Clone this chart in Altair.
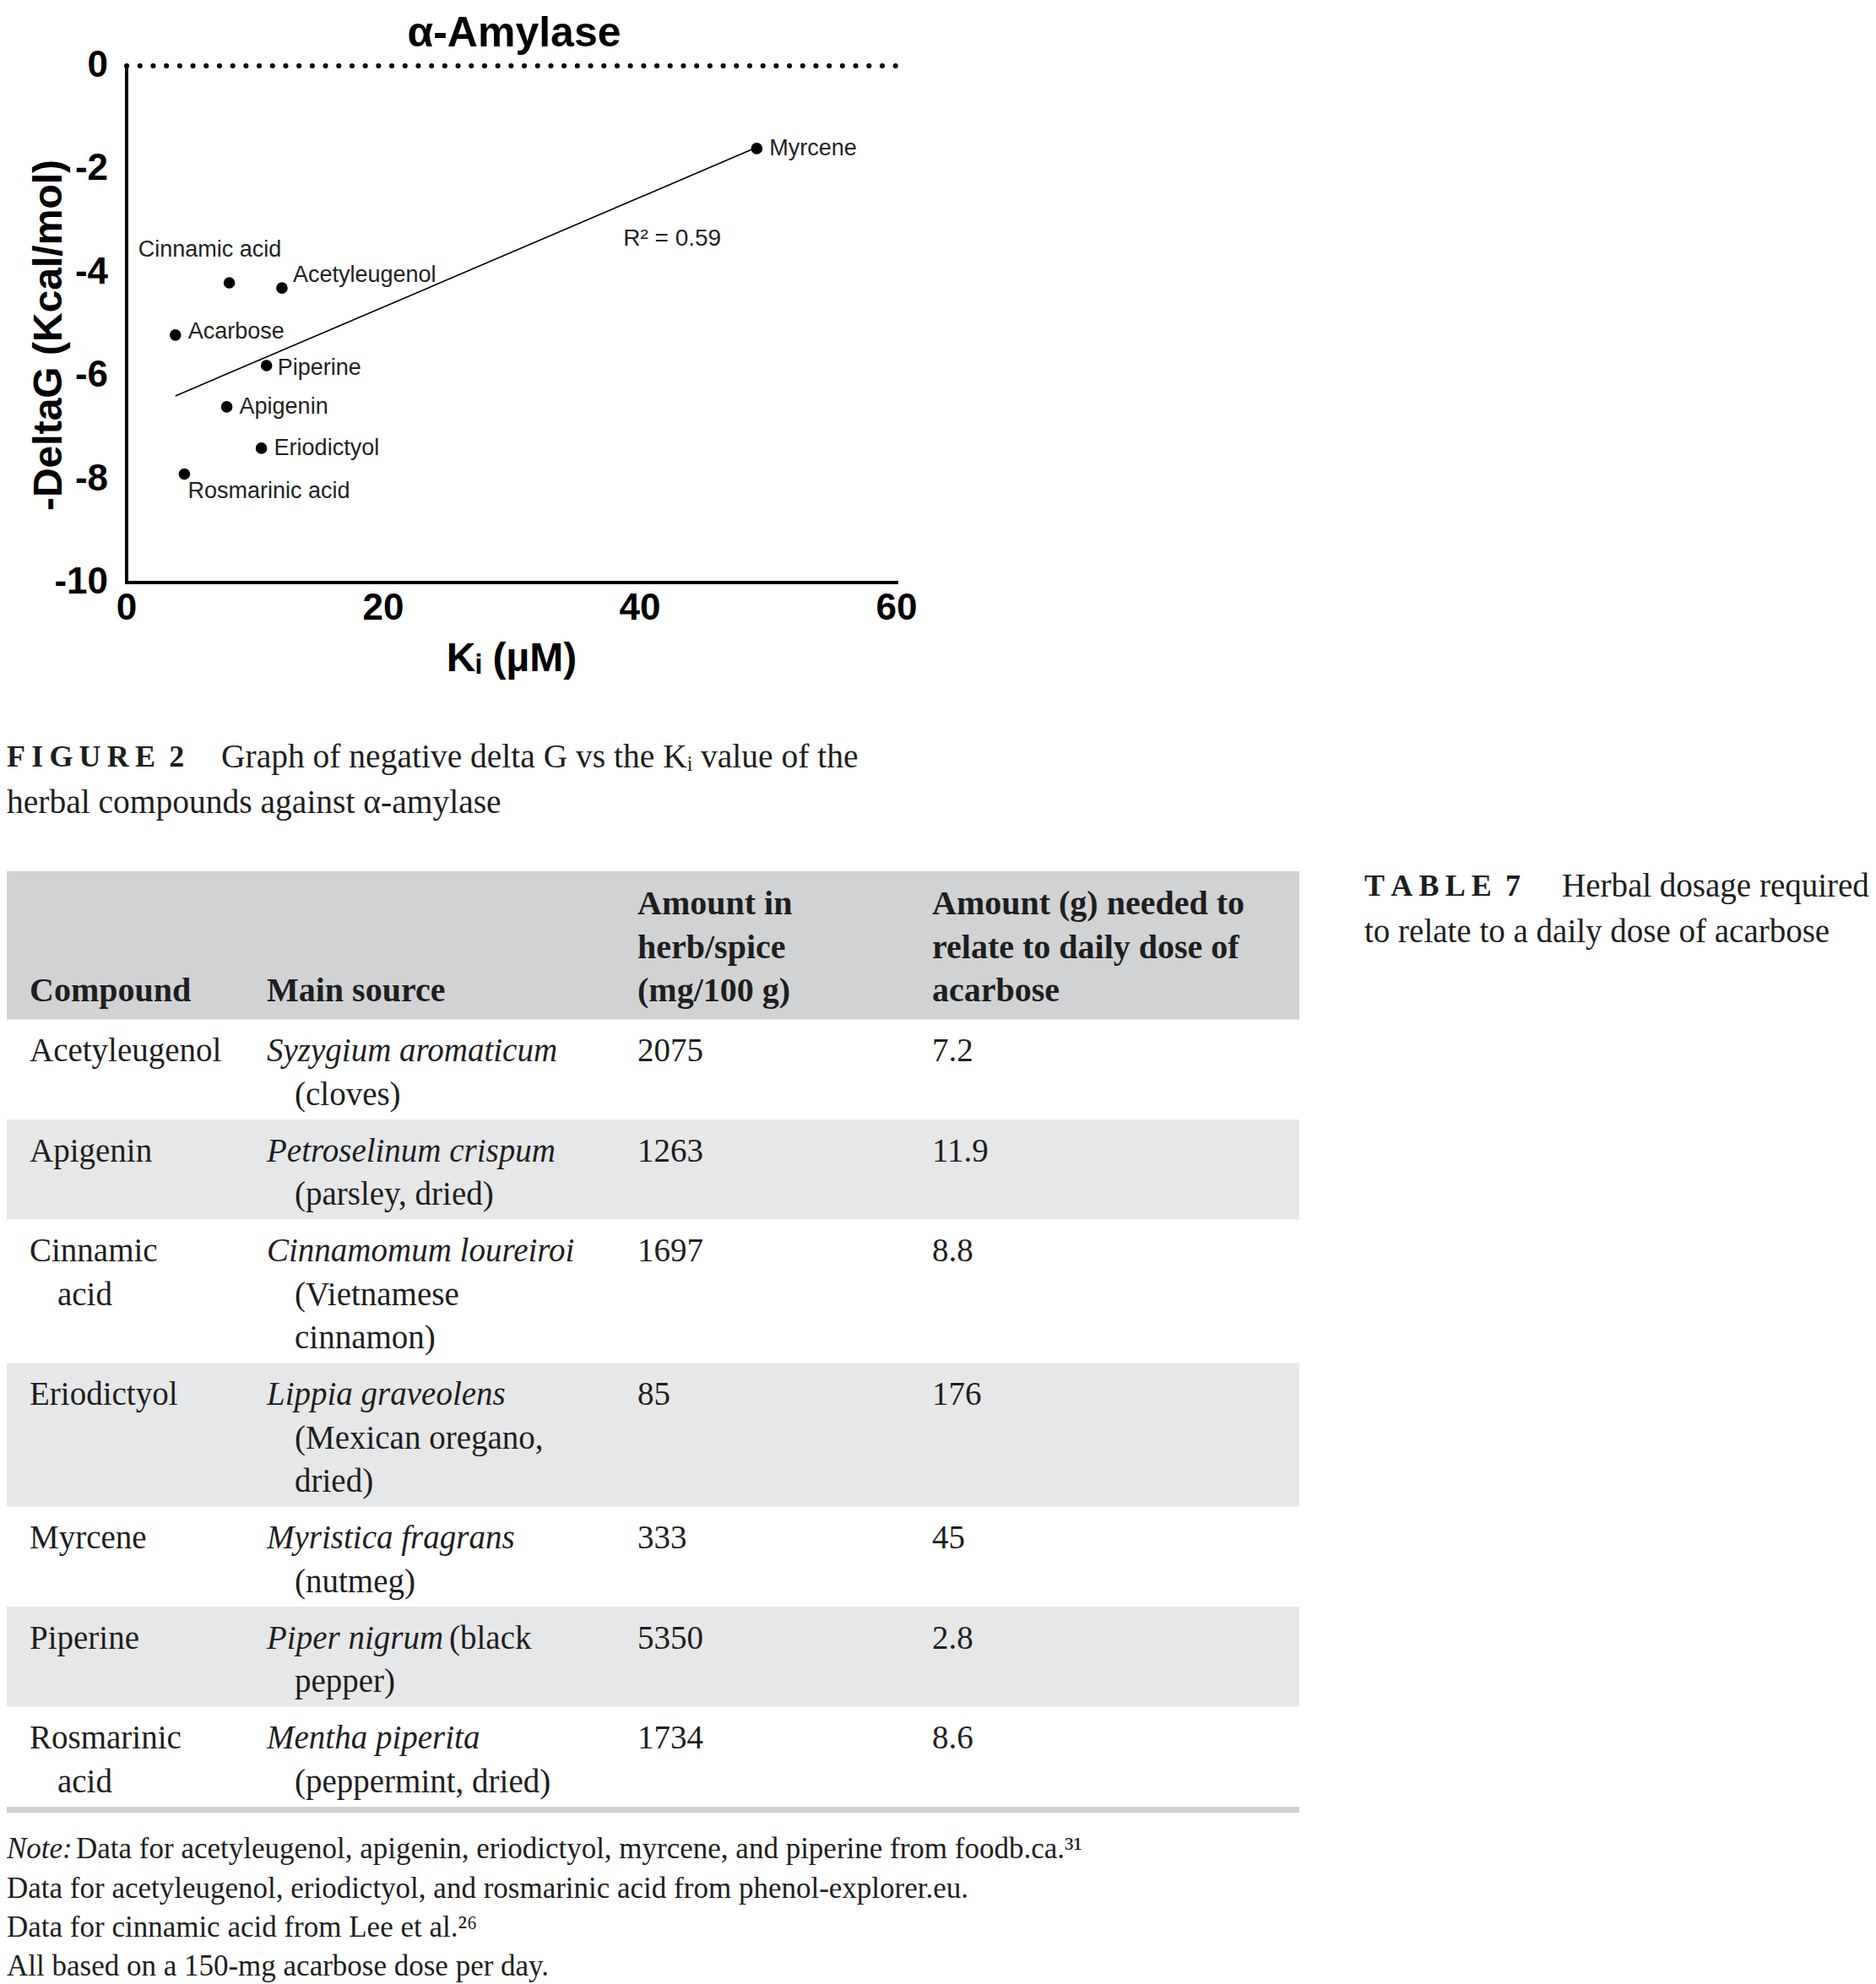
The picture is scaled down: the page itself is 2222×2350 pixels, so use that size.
import altair as alt
import pandas as pd

# ---------------- data: scatter ----------------
pt_names = ["Myrcene", "Cinnamic acid", "Acetyleugenol", "Acarbose",
            "Piperine", "Apigenin", "Eriodictyol", "Rosmarinic acid"]
pt_ki = [49.1, 8.0, 12.1, 3.8, 10.9, 7.8, 10.5, 4.5]
pt_dg = [-1.6, -4.2, -4.3, -5.21, -5.8, -6.6, -7.4, -7.9]
x_ticks = [0, 20, 40, 60]
y_ticks = [0, -2, -4, -6, -8, -10]
x_domain = [0, 60]
y_domain = [-10, 0]
r2_label = "R\u00b2 = 0.59"
r2_ki = 38.7
r2_dg = -3.35
chart_title = "\u03b1-Amylase"
x_title = "K\u1d62 (\u00b5M)"
y_title = "-DeltaG (Kcal/mol)"

# ---------------- data: table ----------------
header_cols = [["Compound"], ["Main source"],
               ["Amount in", "herb/spice", "(mg/100 g)"],
               ["Amount (g) needed to", "relate to daily dose of", "acarbose"]]
tbl_compound_lines = [["Acetyleugenol"], ["Apigenin"], ["Cinnamic", "acid"], ["Eriodictyol"],
                      ["Myrcene"], ["Piperine"], ["Rosmarinic", "acid"]]
tbl_species = ["Syzygium aromaticum", "Petroselinum crispum", "Cinnamomum loureiroi",
               "Lippia graveolens", "Myristica fragrans", "Piper nigrum", "Mentha piperita"]
tbl_common_lines = [["(cloves)"], ["(parsley, dried)"], ["(Vietnamese", "cinnamon)"],
                    ["(Mexican oregano,", "dried)"], ["(nutmeg)"], ["(black", "pepper)"],
                    ["(peppermint, dried)"]]
tbl_common_inline = [False, False, False, False, False, True, False]
tbl_amount = ["2075", "1263", "1697", "85", "333", "5350", "1734"]
tbl_dose = ["7.2", "11.9", "8.8", "176", "45", "2.8", "8.6"]

fig_label = "F\u2009I\u2009G\u2009U\u2009R\u2009E\u2009 2"
fig_lines = ["Graph of negative delta G vs the K\u1d62 value of the",
             "herbal compounds against \u03b1-amylase"]
tab_label = "T\u2009A\u2009B\u2009L\u2009E\u2009 7"
tab_lines = ["Herbal dosage required", "to relate to a daily dose of acarbose"]
note_label = "Note:"
note_lines = ["Data for acetyleugenol, apigenin, eriodictyol, myrcene, and piperine from foodb.ca.\u00b3\u00b9",
              "Data for acetyleugenol, eriodictyol, and rosmarinic acid from phenol-explorer.eu.",
              "Data for cinnamic acid from Lee et al.\u00b2\u2076",
              "All based on a 150-mg acarbose dose per day."]

# ---------------- styles / layout ----------------
SANS = "Liberation Sans"
SERIF = "Liberation Serif"
INK = "#1e1e1e"
W, H = 2206, 2342

XS = alt.Scale(domain=x_domain, range=[142, 1054], nice=False, zero=False)
YS = alt.Scale(domain=y_domain, range=[682, 70], nice=False, zero=False)


def X(f):
    return alt.X(f, type="quantitative", scale=XS, axis=None)


def Y(f):
    return alt.Y(f, type="quantitative", scale=YS, axis=None)


pts = pd.DataFrame({"name": pt_names, "ki": pt_ki, "dg": pt_dg})

layers = []
# dotted zero line
layers.append(alt.Chart(pd.DataFrame({"x": [x_domain[0]], "x2": [x_domain[1]], "y": [0]}))
              .mark_rule(color="black", strokeWidth=6, strokeCap="round", strokeDash=[0.1, 15.6])
              .encode(x=X("x"), x2="x2:Q", y=Y("y")))
# axis lines
layers.append(alt.Chart(pd.DataFrame({"x": [x_domain[0]], "y": [y_domain[0]], "y2": [y_domain[1]]}))
              .mark_rule(color="black", strokeWidth=4, strokeCap="square")
              .encode(x=X("x"), y=Y("y"), y2="y2:Q"))
layers.append(alt.Chart(pd.DataFrame({"x": [x_domain[0]], "x2": [x_domain[1]], "y": [y_domain[0]]}))
              .mark_rule(color="black", strokeWidth=4, strokeCap="square")
              .encode(x=X("x"), x2="x2:Q", y=Y("y")))
# tick labels
layers.append(alt.Chart(pd.DataFrame({"x": [x_domain[0]] * len(y_ticks), "v": y_ticks,
                                      "lab": [str(v) for v in y_ticks]}))
              .mark_text(align="right", baseline="middle", dx=-22, font=SANS, fontSize=44,
                         fontWeight="bold", color="black")
              .encode(x=X("x"), y=Y("v"), text="lab:N"))
layers.append(alt.Chart(pd.DataFrame({"v": x_ticks, "y": [y_domain[0]] * len(x_ticks),
                                      "lab": [str(v) for v in x_ticks]}))
              .mark_text(align="center", baseline="middle", dy=31, font=SANS, fontSize=44,
                         fontWeight="bold", color="black")
              .encode(x=X("v"), y=Y("y"), text="lab:N"))
# titles
mid_x = (x_domain[0] + x_domain[1]) / 2
mid_y = (y_domain[0] + y_domain[1]) / 2
layers.append(alt.Chart(pd.DataFrame({"x": [mid_x], "y": [y_domain[1]], "t": [chart_title]}))
              .mark_text(align="center", baseline="top", dx=3, dy=-63, font=SANS,
                         fontSize=50, fontWeight="bold", color="black")
              .encode(x=X("x"), y=Y("y"), text="t:N"))
layers.append(alt.Chart(pd.DataFrame({"x": [mid_x], "y": [y_domain[0]], "t": [x_title]}))
              .mark_text(align="center", baseline="middle", dy=91, font=SANS, fontSize=48,
                         fontWeight="bold", color="black")
              .encode(x=X("x"), y=Y("y"), text="t:N"))
layers.append(alt.Chart(pd.DataFrame({"x": [x_domain[0]], "y": [mid_y], "t": [y_title]}))
              .mark_text(align="center", baseline="middle", angle=270, dx=-13, dy=-91,
                         font=SANS, fontSize=48, fontWeight="bold", color="black")
              .encode(x=X("x"), y=Y("y"), text="t:N"))
# regression line
layers.append(alt.Chart(pts).transform_regression("ki", "dg")
              .mark_line(color="black", strokeWidth=1.6)
              .encode(x=X("ki"), y=Y("dg")))
# points
layers.append(alt.Chart(pts).mark_circle(size=185, color="black", opacity=1)
              .encode(x=X("ki"), y=Y("dg")))
# point labels
label_offsets = {
    "Myrcene": ("left", 15, 0),
    "Cinnamic acid": ("center", -23, -39),
    "Acetyleugenol": ("left", 13, -15),
    "Acarbose": ("left", 15, -4),
    "Piperine": ("left", 13, 3),
    "Apigenin": ("left", 15, 0),
    "Eriodictyol": ("left", 15, 0),
    "Rosmarinic acid": ("left", 4, 21),
}
for nm, (al, ddx, ddy) in label_offsets.items():
    layers.append(alt.Chart(pts).transform_filter(alt.datum.name == nm)
                  .mark_text(align=al, baseline="middle", dx=ddx, dy=ddy, font=SANS,
                             fontSize=27, color="#222222")
                  .encode(x=X("ki"), y=Y("dg"), text="name:N"))
layers.append(alt.Chart(pd.DataFrame({"x": [r2_ki], "y": [r2_dg], "t": [r2_label]}))
              .mark_text(align="left", baseline="middle", font=SANS, fontSize=28, color="#222222")
              .encode(x=X("x"), y=Y("y"), text="t:N"))
scatter = alt.layer(*layers)

# ---------------- table layout ----------------
LINE = 51.5
HEADER_PAD_TOP = 13.25
HEADER_H = 175.5
ROW_PAD_TOP = 11.75
ROW_PAD = 15.5
TABLE_TOP = 1024
TABLE_W = 1531
RULE_H = 7

recs = []
bands = [dict(top=0.0, bot=HEADER_H, kind="header")]
for c, lines in enumerate(header_cols):
    n = len(lines)
    for k, t in enumerate(lines):
        recs.append(dict(col=c, ty=HEADER_PAD_TOP + (3 - n + k + 0.5) * LINE, text=t, kind="bold"))
top = HEADER_H
for i in range(len(tbl_species)):
    src = [(tbl_species[i], "ital")]
    common = tbl_common_lines[i]
    if tbl_common_inline[i]:
        src_inline = common[0]
        rest = common[1:]
    else:
        src_inline = None
        rest = common
    src += [(t, "indent") for t in rest]
    comp = [(t, "reg" if k == 0 else "indent") for k, t in enumerate(tbl_compound_lines[i])]
    n = max(len(src), len(comp))

    def ly(k):
        return top + ROW_PAD_TOP + (k + 0.5) * LINE

    for k, (t, kd) in enumerate(comp):
        recs.append(dict(col=0, ty=ly(k), text=t, kind=kd))
    for k, (t, kd) in enumerate(src):
        recs.append(dict(col=1, ty=ly(k), text=t, kind=kd))
    if src_inline:
        recs.append(dict(col=1, ty=ly(0), text=src_inline, kind="inline"))
    recs.append(dict(col=2, ty=ly(0), text=tbl_amount[i], kind="reg"))
    recs.append(dict(col=3, ty=ly(0), text=tbl_dose[i], kind="reg"))
    bot = top + n * LINE + ROW_PAD
    bands.append(dict(top=top, bot=bot, kind="shade" if i % 2 == 1 else "plain"))
    top = bot
total = top
bands.append(dict(top=total, bot=total + RULE_H, kind="rule"))

TY = alt.Scale(domain=[0, total + RULE_H], range=[TABLE_TOP, TABLE_TOP + total + RULE_H],
               nice=False, zero=False)
TX = alt.Scale(domain=[0, 1, 2, 3], range=[27, 308, 747, 1096], nice=False, zero=False)
tdf = pd.DataFrame(recs)
bdf = pd.DataFrame(bands)

tlayers = [
    alt.Chart(bdf).transform_filter(alt.datum.kind != "plain").mark_rect()
    .encode(x=alt.value(0), x2=alt.value(TABLE_W),
            y=alt.Y("top:Q", scale=TY, axis=None), y2="bot:Q",
            color=alt.Color("kind:N", legend=None,
                            scale=alt.Scale(domain=["header", "shade", "rule"],
                                            range=["#d1d2d4", "#e6e7e8", "#cfd0d2"])))
]
text_styles = {
    "bold": dict(fontWeight="bold", fontStyle="normal", dx=0, fontSize=40),
    "reg": dict(fontWeight="normal", fontStyle="normal", dx=0, fontSize=39),
    "indent": dict(fontWeight="normal", fontStyle="normal", dx=33, fontSize=39),
    "ital": dict(fontWeight="normal", fontStyle="italic", dx=0, fontSize=39),
    "inline": dict(fontWeight="normal", fontStyle="normal", dx=216, fontSize=39),
}
for kd, st in text_styles.items():
    tlayers.append(alt.Chart(tdf).transform_filter(alt.datum.kind == kd)
                   .mark_text(align="left", baseline="middle", font=SERIF, color=INK, **st)
                   .encode(x=alt.X("col:Q", scale=TX, axis=None),
                           y=alt.Y("ty:Q", scale=TY, axis=None), text="text:N"))
table = alt.layer(*tlayers)


# ---------------- captions / notes ----------------
def static_text(t, x, y, size, weight="normal", style="normal"):
    return (alt.Chart(pd.DataFrame({"t": [t]}))
            .mark_text(align="left", baseline="middle", font=SERIF, fontSize=size,
                       fontWeight=weight, fontStyle=style, color=INK)
            .encode(x=alt.value(x), y=alt.value(y), text="t:N"))


cl = [
    static_text(fig_label, 0, 889, 36, weight="bold"),
    static_text(fig_lines[0], 254, 889, 39.5),
    static_text(fig_lines[1], 0, 943, 39.5),
    static_text(tab_label, 1608, 1042, 36, weight="bold"),
    static_text(tab_lines[0], 1842, 1042, 39),
    static_text(tab_lines[1], 1608, 1096, 39),
    static_text(note_label, 0, 2182, 35, style="italic"),
]
note_y = [2182, 2228.5, 2275, 2321]
for k, t in enumerate(note_lines):
    cl.append(static_text(t, 82 if k == 0 else 0, note_y[k], 35))
captions = alt.layer(*cl)

chart = (alt.layer(scatter, table, captions)
         .resolve_scale(x="independent", y="independent", color="independent")
         .properties(width=W, height=H, padding=0, autosize=alt.AutoSizeParams(type="none"),
                     background="white")
         .configure_view(stroke=None))

chart.save("out.html", embed_options={"renderer": "svg", "actions": False})
